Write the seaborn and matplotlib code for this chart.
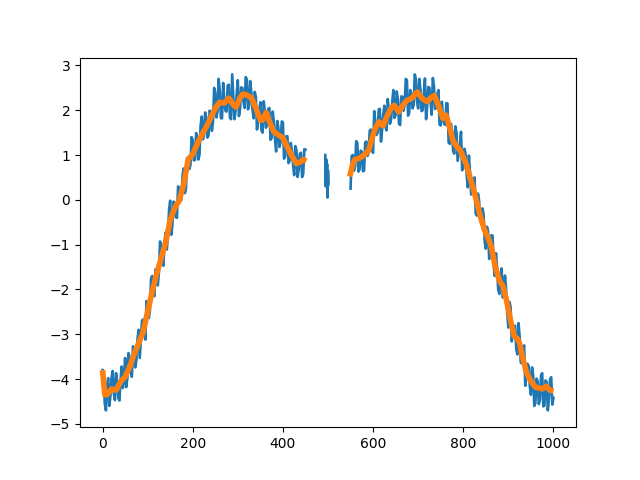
import matplotlib
matplotlib.use("Agg")
import matplotlib.pyplot as plt
import seaborn as sns
import numpy as np

# Blue noisy signal, left part (x = 0..450 step 5)
blue_left_x = list(range(0, 451, 5))
blue_left_y = [
    -3.80, -4.55, -4.15, -4.60, -3.97, -4.33, -3.87, -4.42, -4.00, -4.20,
    -3.53, -3.98, -3.52, -3.95, -3.35, -3.58, -2.90, -3.12, -2.67, -3.12,
    -2.35, -2.48, -1.70, -2.15, -1.65, -1.62, -1.00, -1.47, -0.73, -0.80,
    -0.02, -0.55, -0.08, -0.40, 0.25, 0.00, 0.70, 0.25, 0.95, 0.78,
    1.33, 0.89, 1.40, 1.01, 1.86, 1.45, 1.84, 1.44, 1.94, 1.74,
    2.40, 1.98, 2.43, 1.82, 2.21, 1.97, 2.57, 1.80, 2.32, 1.98,
    2.67, 2.03, 2.50, 2.05, 2.69, 2.11, 2.38, 1.82, 2.30, 1.75,
    2.18, 1.50, 1.95, 1.72, 2.05, 1.38, 1.72, 1.08, 1.60, 1.31,
    1.73, 0.97, 1.42, 0.87, 1.08, 0.55, 1.11, 0.67, 1.05, 0.58,
    1.12,
]
# in-between samples, left part (x = 2.5..447.5 step 5)
blue_left_x2 = [v + 2.5 for v in range(0, 450, 5)]
blue_left_y2 = [
    -4.08, -4.70, -3.98, -4.38, -3.82, -4.47, -4.07, -4.48, -3.72, -4.01,
    -4.18, -3.42, -3.86, -3.27, -3.74, -3.11, -3.53, -2.70, -2.92, -2.26,
    -2.64, -1.76, -2.10, -1.55, -1.91, -0.93, -1.41, -0.92, -1.11, -0.23,
    -0.78, -0.04, -0.39, 0.30, -0.03, 0.55, 0.15, 0.93, 0.69, 1.40,
    0.88, 1.49, 0.90, 1.66, 1.35, 1.95, 1.39, 1.99, 1.54, 2.50,
    1.84, 2.70, 1.82, 2.61, 1.99, 2.55, 1.83, 2.80, 1.80, 2.37,
    1.87, 2.51, 2.20, 2.74, 2.02, 2.65, 2.02, 2.41, 1.57, 1.99,
    1.54, 2.20, 1.61, 2.03, 1.34, 1.97, 1.35, 1.76, 1.18, 1.75,
    0.92, 1.42, 0.82, 1.27, 0.79, 1.20, 0.51, 1.03, 0.51, 1.13,
]

# Blue small isolated segment near x = 500
blue_mid_x = [494, 495, 496, 497, 498, 499, 500, 501]
blue_mid_y = [1.00, 0.30, 0.90, 0.45, 0.80, 0.05, 0.65, 0.35]

# Blue noisy signal, right part (x = 550..1000 step 5)
blue_right_x = list(range(550, 1001, 5))
blue_right_y = [
    0.25, 1.00, 0.75, 1.27, 0.68, 1.07, 0.65, 1.30, 1.05, 1.57,
    1.05, 1.75, 1.50, 2.03, 1.57, 2.10, 1.55, 2.00, 1.80, 2.45,
    1.90, 2.23, 1.67, 2.30, 2.12, 2.67, 1.94, 2.36, 2.12, 2.68,
    2.04, 2.46, 2.00, 2.71, 2.09, 2.50, 1.90, 2.53, 2.07, 2.45,
    1.66, 1.87, 1.67, 2.15, 1.25, 1.55, 1.03, 1.50, 1.03, 1.52,
    0.70, 1.03, 0.28, 0.60, 0.18, 0.50, -0.35, -0.01, -0.50, -0.32,
    -1.09, -0.70, -1.18, -0.80, -1.70, -1.52, -2.10, -1.53, -2.13, -2.00,
    -2.85, -2.40, -2.97, -2.81, -3.45, -3.05, -3.65, -3.25, -3.95, -3.71,
    -4.35, -3.92, -4.53, -4.05, -4.46, -3.87, -4.59, -4.07, -4.43, -3.96,
    -4.42,
]
# in-between samples, right part (x = 552.5..997.5 step 5)
blue_right_x2 = [v + 2.5 for v in range(550, 1000, 5)]
blue_right_y2 = [
    0.98, 0.65, 1.31, 0.63, 1.10, 0.64, 1.28, 0.98, 1.54, 1.11,
    1.98, 1.45, 2.02, 1.30, 1.89, 1.63, 2.25, 1.70, 2.18, 1.83,
    2.42, 1.70, 2.31, 1.99, 2.70, 1.88, 2.45, 2.04, 2.80, 2.19,
    2.70, 1.98, 2.38, 1.80, 2.52, 2.18, 2.72, 2.03, 2.36, 1.68,
    2.19, 1.70, 2.16, 1.28, 1.70, 1.09, 1.64, 0.87, 1.20, 0.66,
    1.14, 0.56, 0.99, 0.12, 0.39, -0.30, 0.14, -0.46, -0.19, -0.93,
    -0.60, -1.32, -0.79, -1.48, -1.19, -2.01, -1.74, -2.18, -1.69, -2.53,
    -2.28, -3.16, -2.84, -3.33, -2.75, -3.63, -3.35, -4.15, -3.66, -4.16,
    -3.74, -4.60, -3.99, -4.56, -3.92, -4.61, -4.03, -4.70, -4.00, -4.57,
]

# Orange smoothed line, left part
orange_left_x = [0, 5, 10, 20, 30, 40, 50, 60, 70, 80, 90, 100, 110, 120, 130,
                 140, 150, 160, 170, 180, 190, 200, 210, 220, 230, 240, 250,
                 260, 270, 280, 290, 296, 305, 311, 320, 330, 340, 350, 355,
                 363, 370, 380, 390, 400, 410, 420, 430, 440, 445, 452]
orange_left_y = [-3.80, -4.35, -4.35, -4.22, -4.25, -4.06, -3.95, -3.73, -3.45,
                 -3.20, -2.95, -2.50, -2.05, -1.65, -1.30, -0.95, -0.45, -0.18,
                 -0.02, 0.35, 0.90, 1.02, 1.25, 1.45, 1.63, 1.83, 2.05, 2.18,
                 2.16, 2.27, 2.12, 2.07, 2.28, 2.36, 2.34, 2.28, 2.05, 1.78,
                 1.78, 1.95, 1.75, 1.52, 1.45, 1.38, 1.17, 0.98, 0.81, 0.85,
                 0.90, 0.87]

# Orange smoothed line, right part
orange_right_x = [548, 555, 560, 570, 580, 590, 600, 605, 613, 622, 630, 640,
                  647, 657, 665, 675, 685, 698, 709, 720, 728, 736, 745, 755,
                  762, 770, 777, 785, 795, 806, 815, 821, 830, 836, 847, 855,
                  862, 870, 880, 888, 895, 905, 913, 920, 925, 930, 940, 950,
                  960, 975, 984, 992, 1000]
orange_right_y = [0.52, 0.80, 0.90, 0.93, 1.00, 1.10, 1.45, 1.60, 1.74, 1.65,
                  1.85, 2.05, 2.11, 1.96, 2.10, 2.22, 2.26, 2.41, 2.26, 2.19,
                  2.28, 2.33, 2.10, 1.82, 1.89, 1.60, 1.33, 1.20, 1.07, 0.81,
                  0.50, 0.30, -0.05, -0.30, -0.67, -0.85, -1.04, -1.45, -1.80,
                  -1.93, -2.20, -2.70, -3.04, -3.10, -3.20, -3.45, -3.85, -4.05,
                  -4.18, -4.22, -4.16, -4.25, -4.27]


def merged(xa, ya, xb, yb):
    x = np.array(list(xa) + list(xb), dtype=float)
    y = np.array(list(ya) + list(yb), dtype=float)
    order = np.argsort(x)
    return x[order], y[order]


fig, ax = plt.subplots(figsize=(6.4, 4.8), dpi=100)
blue = "#1f77b4"
orange = "#ff7f0e"

segments = [
    merged(blue_left_x, blue_left_y, blue_left_x2, blue_left_y2),
    (np.array(blue_mid_x, dtype=float), np.array(blue_mid_y)),
    merged(blue_right_x, blue_right_y, blue_right_x2, blue_right_y2),
]
for xs, ys in segments:
    sns.lineplot(x=xs, y=ys, ax=ax, color=blue, linewidth=1.9,
                 estimator=None, sort=False)

for xs, ys in [(orange_left_x, orange_left_y), (orange_right_x, orange_right_y)]:
    l = sns.lineplot(x=xs, y=ys, ax=ax, color=orange, linewidth=4,
                     estimator=None, sort=False)
for line in ax.get_lines()[-2:]:
    line.set_solid_joinstyle("round")
    line.set_solid_capstyle("butt")

ax.set_xticks([0, 200, 400, 600, 800, 1000])
ax.set_yticks([-5, -4, -3, -2, -1, 0, 1, 2, 3])
ax.set_xlabel("")
ax.set_ylabel("")

fig.savefig("out.png", dpi=100)
